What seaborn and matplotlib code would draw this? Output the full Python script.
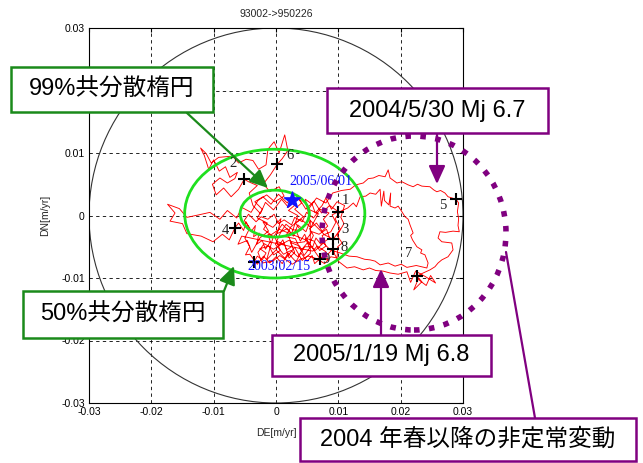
import numpy as np
import pandas as pd
import matplotlib
matplotlib.use("Agg")
import matplotlib.pyplot as plt
import seaborn as sns
from matplotlib.patches import Ellipse, Circle, Rectangle, FancyArrowPatch

# ---- velocity trajectory (mm/yr) ----
path_pts = [
    # start, lower cluster
    (-3.5, -7.4), (-3.0, -6.5), (-2.2, -7.1), (-1.6, -6.0), (-2.6, -5.3), (-1.1, -4.9), (-0.4, -6.3),
    (0.7, -5.6), (0.1, -4.1), (1.4, -4.7), (2.1, -6.8), (3.0, -5.9), (2.3, -4.3), (3.8, -4.9),
    (4.5, -6.4), (5.4, -5.2), (4.7, -3.6), (6.1, -4.1), (7.0, -5.6), (8.0, -4.9), (7.4, -3.2),
    (8.8, -2.6), (9.6, -1.1), (9.0, 0.1), (10.0, 0.6),
    # back west and up to mark 2
    (8.6, 1.6), (7.3, 0.4), (6.1, 2.3), (4.8, 1.0), (3.6, 2.9), (2.0, 1.3), (0.9, 2.6), (-0.4, 0.9),
    (-1.7, 2.1), (-2.5, 0.3), (-3.7, 1.6), (-4.3, 3.6), (-3.0, 4.8), (-4.4, 5.4), (-5.1, 5.8),
    (-6.0, 4.2), (-7.2, 3.0), (-8.4, 4.4), (-9.6, 3.3), (-10.2, 5.0), (-9.0, 6.0), (-7.8, 5.2),
    (-6.6, 5.9),
    # upper left and top
    (-6.2, 6.9), (-7.4, 6.1), (-8.1, 7.8), (-9.1, 7.1), (-10.0, 8.9), (-10.8, 7.4), (-11.5, 9.6),
    (-12.1, 10.8), (-11.2, 9.9), (-10.4, 8.4), (-9.2, 9.3), (-7.0, 9.5), (-6.0, 8.4), (-4.8, 9.0),
    (-3.7, 8.8), (-2.8, 7.4), (-1.6, 8.1), (-1.3, 10.6), (-0.3, 11.8), (0.5, 10.0), (1.4, 12.9),
    (1.9, 10.4), (1.0, 9.1), (0.2, 8.2),
    (-0.9, 6.5), (-2.0, 5.1), (-1.0, 3.8), (0.5, 4.6), (1.3, 3.1), (-0.2, 2.2), (-1.5, 3.3),
    (-2.9, 2.4), (-4.0, 0.5), (-5.5, 1.3), (-6.3, -0.4), (-7.8, 0.8), (-9.0, -0.6), (-10.6, 0.5),
    (-12.4, 0.1), (-14.3, -0.3), (-15.5, 1.1), (-17.4, 1.8), (-16.2, 0.4), (-17.0, -0.9),
    (-15.0, -1.3), (-14.3, -2.9), (-12.0, -3.3), (-10.1, -4.2), (-8.6, -3.0), (-7.5, -3.9), (-6.6, -2.0),
    # dense centre
    (-6.0, -1.2), (-5.2, -2.4), (-4.8, -1.0), (-4.0, -2.6), (-3.3, -1.6), (-3.6, -3.4), (-2.7, -2.8),
    (-3.1, -4.6), (-2.2, -4.0), (-1.7, -5.4), (-0.9, -4.2), (-1.3, -3.0), (-0.2, -3.4), (0.4, -4.9),
    (1.1, -3.9), (1.7, -5.5), (2.6, -4.9), (2.0, -3.2), (3.3, -2.6), (3.9, -4.1), (4.6, -3.0),
    (5.3, -4.6), (6.0, -3.2), (5.4, -2.1), (6.5, -1.2), (7.4, -2.5), (8.3, -1.7), (7.6, -0.6),
    (8.5, 0.4), (7.1, 1.0), (6.0, -0.4), (4.9, 0.5), (4.2, -1.0), (3.0, -0.3), (2.5, -1.5),
    (1.3, -0.7), (0.4, -1.3), (-0.3, 0.2), (-1.3, -0.6), (-2.4, -0.2), (-3.2, -1.0), (-4.4, 0.2),
    (-5.1, -0.8), (-4.2, -2.0), (-5.0, -3.6), (-4.2, -5.0), (-4.9, -6.3), (-4.2, -6.2),
    (-3.0, -7.8), (-2.0, -6.5), (-1.0, -7.6), (0.0, -6.6), (1.0, -7.7), (1.9, -6.0), (3.2, -7.4),
    (4.0, -6.0), (5.0, -7.3), (5.8, -6.4), (6.2, -7.7), (7.5, -6.5), (8.3, -7.2), (8.0, -5.8),
    (6.6, -4.9), (5.9, -5.7),
    (-5.5, -3.3), (-6.1, -4.6), (-4.6, -4.0), (-3.9, -5.9), (-2.6, -3.6), (-1.2, -2.5), (-2.1, -1.0),
    (-0.5, -1.9), (0.8, -0.5), (0.2, -2.9), (1.8, -2.1), (2.8, -3.3), (3.5, -1.5), (4.8, -2.6),
    (5.5, -0.8), (6.8, -2.1), (7.8, -3.1), (9.2, -3.8),
    # eastward, middle route
    (10.3, -2.2), (9.5, -0.5), (10.4, 0.7), (11.5, 1.2), (12.4, 2.0), (12.9, 1.4), (13.5, 3.0),
    (14.4, 3.1), (15.1, 3.6), (16.0, 3.4), (16.7, 4.2), (16.9, 1.5), (17.3, 3.9), (17.4, 2.4),
    (18.1, 1.7), (18.4, 3.6), (18.3, 1.5), (19.1, 1.2), (19.6, 1.5), (20.2, 0.6), (20.7, -0.2),
    (21.2, -0.6), (21.5, -1.5), (22.0, -2.8), (21.6, -3.2), (21.9, -3.9), (22.6, -5.0), (23.4, -5.5),
    (23.2, -6.0), (23.9, -6.3), (24.4, -7.6), (24.2, -8.4),
    # back west, lower route
    (22.5, -8.0), (21.0, -8.3), (20.1, -7.8), (19.1, -8.1), (18.0, -7.6), (16.7, -7.9), (15.9, -7.3),
    (15.1, -7.1), (14.2, -7.0), (13.0, -6.6), (11.7, -6.5), (10.3, -6.0), (8.7, -5.5),
    (7.6, -4.4), (6.3, -5.6), (5.1, -4.3), (4.0, -5.6), (3.1, -3.7), (1.5, -3.4), (2.4, -1.8),
    (4.0, -0.6), (5.6, -1.9), (6.8, 0.3), (5.2, 1.0), (6.5, 2.8), (8.0, 2.0), (9.1, 3.6),
    # eastward, upper route to mark 5 and down to mark 7
    (10.5, 4.0), (11.9, 4.2), (12.8, 4.9), (14.0, 5.2), (14.8, 5.9), (15.6, 6.0), (16.5, 6.4),
    (17.5, 6.2), (18.0, 7.3), (18.3, 6.0), (19.4, 5.2), (20.2, 5.4), (21.2, 4.9), (22.0, 4.6),
    (22.7, 5.0), (23.4, 4.7), (24.7, 4.6), (25.3, 4.1), (25.8, 3.8), (26.4, 4.0), (27.1, 3.6),
    (27.6, 3.0), (28.9, 2.6), (29.3, 2.0), (29.1, 0.6), (29.3, -0.5), (29.2, -1.6), (29.4, -2.6),
    (28.4, -2.5), (27.2, -2.7), (26.3, -2.6), (26.0, -3.6), (26.6, -4.2), (28.2, -4.4), (28.4, -5.5),
    (27.6, -6.6), (26.6, -7.1), (26.0, -7.6), (25.5, -8.2), (24.7, -8.7), (23.6, -9.2), (22.6, -9.7),
    # around mark 7
    (23.4, -10.6), (22.1, -11.9), (22.8, -10.2), (24.1, -11.2), (24.8, -9.6), (25.6, -10.8),
    (24.0, -9.8), (22.4, -8.9), (21.6, -10.7), (21.0, -9.0),
    # back west to marks 8 and 9
    (19.6, -9.4), (18.3, -9.2), (17.2, -8.9), (16.0, -8.8), (15.0, -8.4), (14.0, -8.7), (12.6, -8.2),
    (11.4, -8.4), (10.1, -7.4), (9.4, -6.2), (9.2, -5.3), (8.4, -6.1), (7.1, -7.0),
    # last months inside the cluster
    (5.0, -4.0), (0.5, -2.2), (-0.8, -3.1), (-2.0, -2.2), (-1.4, -1.2), (-3.0, -0.4), (-2.2, 1.0),
    (-3.4, 2.2), (-2.1, 3.0), (-0.8, 1.8), (0.4, 3.4), (1.8, 2.0), (2.9, 3.6), (4.1, 2.0),
    (3.0, 1.0), (4.4, -0.2), (3.1, -1.2), (4.0, -2.4), (2.7, -2.3), (1.6, -1.4), (0.7, -2.8),
    (-0.1, -4.6), (1.2, -6.2), (2.4, -5.6), (3.5, -6.6), (4.6, -5.0), (5.9, -5.0), (6.4, -3.6),
    (7.2, -4.6), (8.6, -3.6), (8.1, -2.2), (6.9, -3.0), (5.8, -2.6), (4.6, -4.2), (3.3, -4.4),
    (2.0, -4.0), (0.9, -4.6), (-0.4, -5.4), (-1.9, -4.5), (-2.9, -5.9), (-2.2, -7.6), (-0.5, -7.3),
    (0.6, -6.4), (2.6, -7.8), (3.9, -7.0), (5.2, -6.5), (6.5, -6.9), (7.8, -7.7), (8.8, -6.6),
    (9.8, -6.8), (9.9, -5.0), (10.6, -4.4), (9.8, -3.2), (10.9, -1.3), (10.4, -0.3), (11.0, 1.6),
    (9.8, 2.2), (8.9, 1.0), (8.0, 2.8), (7.4, 1.6), (6.3, 0.4), (5.8, 1.8), (4.7, 2.6),
    (5.5, -1.0), (5.5, -6.1), (4.2, -7.2), (3.0, -5.1), (1.5, -6.9), (0.0, -5.5), (-1.5, -7.1),
    (-0.5, -3.6), (1.0, -1.4), (2.5, -2.9), (3.5, 0.0), (2.0, 0.8), (3.2, 1.8), (2.6, 2.5),
]
MM = 1e-3  # mm/yr -> m/yr
de = np.array([p[0] for p in path_pts]) * MM
dn = np.array([p[1] for p in path_pts]) * MM

# quarterly marks (mm/yr)
mark_ids = ["1", "2", "3", "4", "5", "6", "7", "8", "9"]
mark_de = np.array([10.0, -5.1, 9.2, -6.6, 28.9, 0.2, 22.6, 9.2, 7.1]) * MM
mark_dn = np.array([0.6, 5.8, -3.8, -2.0, 2.6, 8.2, -9.7, -5.3, -7.0]) * MM
start_date, start_pt = "2003/02/15", (-3.5 * MM, -7.4 * MM)
end_date, end_pt = "2005/06/01", (2.6 * MM, 2.5 * MM)

# error ellipses (m/yr)
ell_center = (-0.0002, 0.0003)
ell99_axes = (0.0289, 0.0206)
ell50_axes = (0.0111, 0.0075)
outer_radius = 0.03

ticks = [-0.03, -0.02, -0.01, 0, 0.01, 0.02, 0.03]
xtick_labels = ["-0.03", "-0.02", "-0.01", "0", "0.01", "0.02", "0.03"]
ytick_labels = ["-0.03", "-0.02", "-0.01", "0", "0.01", "", "0.03"]

sns.set_style("white")
plt.rcParams["font.family"] = ["Liberation Sans", "Noto Sans CJK JP"]
plt.rcParams["axes.unicode_minus"] = False

W, H = 643, 463
fig = plt.figure(figsize=(W / 100, H / 100), dpi=100)


def fx(px):
    return px / W


def fy(py):
    return 1 - py / H


ax = fig.add_axes([fx(89), fy(403), 374 / W, 375 / H])

df = pd.DataFrame({"DE": de, "DN": dn})
sns.lineplot(data=df, x="DE", y="DN", sort=False, estimator=None, color="#ff0000",
             linewidth=0.65, ax=ax, zorder=3)

ax.add_patch(Circle((0, 0), outer_radius, fill=False, edgecolor="#333333", lw=0.8, zorder=2))
green = "#1fe01f"
ax.add_patch(Ellipse(ell_center, *ell99_axes, fill=False, edgecolor=green, lw=2.0, zorder=4))
ax.add_patch(Ellipse(ell_center, *ell50_axes, fill=False, edgecolor=green, lw=2.0, zorder=4))

marks = pd.DataFrame({"DE": np.append(mark_de, start_pt[0]), "DN": np.append(mark_dn, start_pt[1])})
sns.scatterplot(data=marks, x="DE", y="DN", marker="+", s=70, color="black", linewidth=1.5,
                ax=ax, zorder=5)
sns.scatterplot(x=[end_pt[0]], y=[end_pt[1]], marker="*", s=150, color="#1010ff",
                edgecolor="#1010ff", ax=ax, zorder=6)

# number labels next to the quarterly marks (offsets in points)
label_offsets = {"1": (5, 8), "2": (-8, 11.5), "3": (8, 7), "4": (-6.5, -2), "5": (-9.5, -4.5),
                 "6": (9.5, 6.5), "7": (-6, 16.5), "8": (8, 0.5), "9": (4.5, 0)}
for mid, x, y in zip(mark_ids, mark_de, mark_dn):
    ax.annotate(mid, (x, y), xytext=label_offsets[mid], textcoords="offset points",
                ha="center", va="center", fontsize=10.5, color="#222222",
                family="Liberation Serif", zorder=7)

ax.text(0.0021, 0.0055, end_date, color="#1010ff", fontsize=10, family="Liberation Serif",
        ha="left", va="center", zorder=7)
ax.text(-0.00465, -0.0082, start_date, color="#1010ff", fontsize=10, family="Liberation Serif",
        ha="left", va="center", zorder=7)

ax.set_xlim(-0.03, 0.03)
ax.set_ylim(-0.03, 0.03)
ax.set_xticks(ticks)
ax.set_xticklabels(xtick_labels)
ax.set_yticks(ticks)
ax.set_yticklabels(ytick_labels)
ax.tick_params(labelsize=7.5, direction="in", length=3, top=True, right=True, pad=3,
               colors="black")
ax.grid(True, color="black", linestyle=(0, (4, 4)), linewidth=0.6)
for s in ax.spines.values():
    s.set_color("black")
    s.set_linewidth(0.8)
ax.set_xlabel("DE[m/yr]", fontsize=7.5, labelpad=8)
ax.set_ylabel("DN[m/yr]", fontsize=7.5, labelpad=8)
ax.set_title("93002->950226", fontsize=7.5, pad=8)

# ---- annotations in figure pixels ----
purple = "#800080"
dkgreen = "#1a8a1a"

fig.add_artist(Ellipse((fx(414), fy(233)), 184 / W, 194 / H, transform=fig.transFigure,
                       fill=False, edgecolor=purple, lw=4.0, linestyle=(0, (1, 1.7)),
                       zorder=4))


def box(x0, y0, x1, y1, text, edge):
    fig.add_artist(Rectangle((fx(x0), fy(y1)), (x1 - x0) / W, (y1 - y0) / H,
                             transform=fig.transFigure, facecolor="white", edgecolor=edge,
                             lw=1.8, zorder=8))
    fig.text(fx((x0 + x1) / 2), fy((y0 + y1) / 2), text, ha="center", va="center",
             fontsize=17, color="black", zorder=9)


def arrow(p0, p1, color, head=True):
    style = "-|>,head_length=0.55,head_width=0.25" if head else "-"
    fig.add_artist(FancyArrowPatch((fx(p0[0]), fy(p0[1])), (fx(p1[0]), fy(p1[1])),
                                   transform=fig.transFigure, arrowstyle=style,
                                   mutation_scale=20, lw=1.6, color=color,
                                   shrinkA=0, shrinkB=0, zorder=7))


arrow((187, 113), (268, 188), dkgreen)
arrow((224, 291), (234, 266), dkgreen)
arrow((437, 133), (437, 184), purple)
arrow((381, 335), (381, 269), purple)
arrow((506, 252), (535, 418), purple, head=False)

box(11, 67, 213, 112, "99%共分散楕円", dkgreen)
box(23, 291, 223, 338, "50%共分散楕円", dkgreen)
box(327, 88, 548, 133, "2004/5/30 Mj 6.7", purple)
box(272, 335, 491, 376, "2005/1/19 Mj 6.8", purple)
box(300, 418, 636, 461, "2004 年春以降の非定常変動", purple)

fig.savefig("out.png", dpi=100)
